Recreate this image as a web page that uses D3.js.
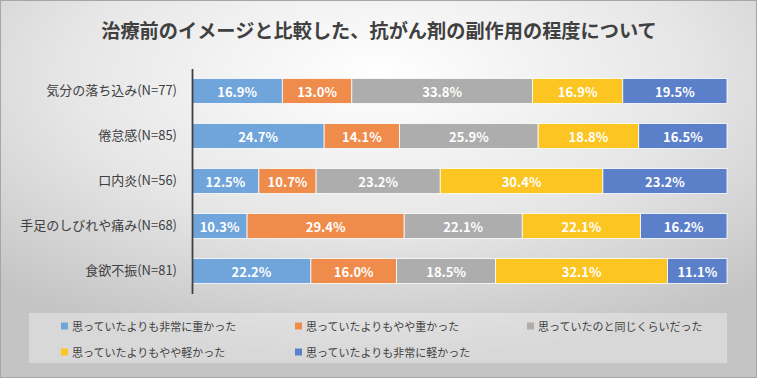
<!DOCTYPE html>
<html><head><meta charset="utf-8">
<script src="https://cdn.jsdelivr.net/npm/d3@7"></script>
<style>body{margin:0;padding:0;overflow:hidden;background:#fff}svg{display:block}</style>
</head><body>
<script>
const title = "治療前のイメージと比較した、抗がん剤の副作用の程度について";
const categories = ["気分の落ち込み(N=77)","倦怠感(N=85)","口内炎(N=56)","手足のしびれや痛み(N=68)","食欲不振(N=81)"];
const seriesNames = ["思っていたよりも非常に重かった","思っていたよりもやや重かった","思っていたのと同じくらいだった","思っていたよりもやや軽かった","思っていたよりも非常に軽かった"];
const colors = ["#6FA5DB","#EF8B4B","#ADADAD","#FCC521","#5B80C9"];
const veryHeavy = [16.9,24.7,12.5,10.3,22.2];
const slightlyHeavy = [13.0,14.1,10.7,29.4,16.0];
const same = [33.8,25.9,23.2,22.1,18.5];
const slightlyLight = [16.9,18.8,30.4,22.1,32.1];
const veryLight = [19.5,16.5,23.2,16.2,11.1];
const seriesValues = [veryHeavy, slightlyHeavy, same, slightlyLight, veryLight];

const W=757,H=378;
const svg=d3.select("body").append("svg").attr("width",W).attr("height",H);
const defs=svg.append("defs");
const rg=defs.append("radialGradient").attr("id","bg").attr("cx","50%").attr("cy","20%").attr("r","75%").attr("fx","50%").attr("fy","20%");
rg.append("stop").attr("offset","0%").attr("stop-color","#ffffff");
rg.append("stop").attr("offset","55%").attr("stop-color","#e6e6e6");
rg.append("stop").attr("offset","100%").attr("stop-color","#c4c4c4");
svg.append("rect").attr("x",0.5).attr("y",0.5).attr("width",W-1).attr("height",H-1).attr("fill","url(#bg)").attr("stroke","#a6a6a6").attr("stroke-width",1);

const font='"Noto Sans CJK JP","Noto Sans",sans-serif';
svg.append("text").attr("x",379).attr("y",30).attr("text-anchor","middle").attr("dominant-baseline","central")
 .attr("font-family",font).attr("font-weight","bold").attr("font-size",19.2).attr("fill","#404040").text(title);

const rows = categories.map((c,i)=>{
  const vals = seriesValues.map(s=>s[i]);
  const tot = d3.sum(vals);
  let acc=0;
  return {cat:c, segs: vals.map((v,j)=>{const s={v, j, x0:acc/tot, x1:(acc+v)/tot}; acc+=v; return s;})};
});

const x=d3.scaleLinear().domain([0,1]).range([192,727]);
const y=d3.scaleBand().domain(categories).range([68.5,293.5]).paddingInner(0.444).paddingOuter(0.222);

const g=svg.append("g");
rows.forEach(r=>{
  const gg=g.append("g");
  gg.selectAll("rect").data(r.segs).join("rect")
    .attr("x",d=>x(d.x0)).attr("y",y(r.cat)).attr("width",d=>x(d.x1)-x(d.x0)).attr("height",y.bandwidth())
    .attr("fill",d=>colors[d.j]).attr("stroke","#ffffff").attr("stroke-width",0.8);
  gg.selectAll("text").data(r.segs).join("text")
    .attr("x",d=>(x(d.x0)+x(d.x1))/2).attr("y",y(r.cat)+y.bandwidth()/2)
    .attr("text-anchor","middle").attr("dominant-baseline","central")
    .attr("font-family",font).attr("font-weight","bold").attr("font-size",13).attr("fill","#ffffff")
    .text(d=>d.v.toFixed(1)+"%");
});

const yAxis=svg.append("g").attr("transform","translate(192,0)").call(d3.axisLeft(y).tickSize(0).tickPadding(15));
yAxis.select(".domain").attr("stroke","#404040").attr("stroke-width",1.8);
yAxis.selectAll("text").attr("font-family",font).attr("font-size",13).attr("fill","#404040");

// legend
svg.append("rect").attr("x",29).attr("y",313).attr("width",698).attr("height",50).attr("fill","#ffffff").attr("fill-opacity",0.35);
const legPos=[[61,326],[295,326],[527,326],[61,352],[295,352]];
const lg=svg.append("g");
seriesNames.forEach((n,i)=>{
  const [lx,ly]=legPos[i];
  lg.append("rect").attr("x",lx).attr("y",ly-3.5).attr("width",7).attr("height",7).attr("fill",colors[i]);
  lg.append("text").attr("x",lx+11).attr("y",ly).attr("dominant-baseline","central")
    .attr("font-family",font).attr("font-size",11).attr("fill","#404040").text(n);
});
</script>
</body></html>
